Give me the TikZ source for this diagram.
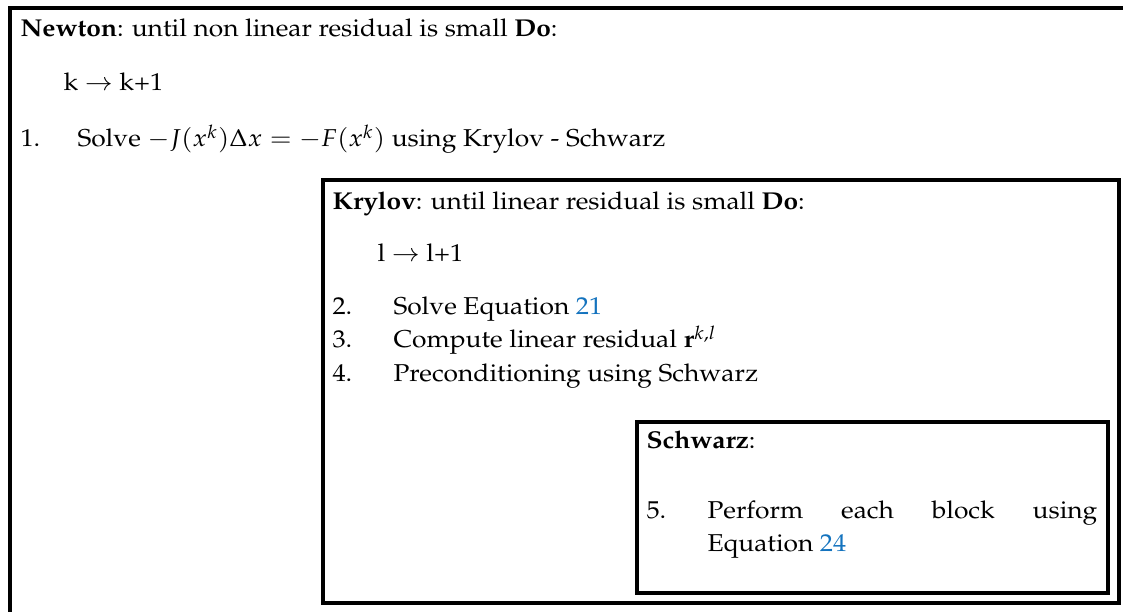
\documentclass[tikz,border=0pt]{standalone}
\usepackage[T1]{fontenc}
\usepackage{mathpazo}
\definecolor{linkblue}{RGB}{20,115,190}
\tikzset{
  frame/.style={line width=1.6pt},
  txt/.style={anchor=base west, inner sep=0pt, xscale=1.08}
}
\begin{document}
\begin{tikzpicture}[x=0.41pt,y=-0.41pt]
  \clip (0,0) rectangle (1123,612);

  % Newton
  \draw[frame] (10,8) rectangle (1150,640);
  \node[txt] (newton) at (20,37) {\textbf{Newton}: until non linear residual is small \textbf{Do}:};
  \node[txt] (kstep) at (63,91) {k $\rightarrow$ k+1};
  \node[txt] (one) at (20,147) {1.};
  \node[txt] (solve) at (77,147) {Solve $-J(x^k)\Delta x = -F(x^k)$ using Krylov - Schwarz};

  \begin{scope}[shift={(323,180)}]
    % Krylov
    \draw[frame] (0,0) rectangle (796,423);
    \node[txt] (krylov) at (9,30) {\textbf{Krylov}: until linear residual is small \textbf{Do}:};
    \node[txt] (lstep) at (54,82) {l $\rightarrow$ l+1};
    \node[txt] (two) at (9,135) {2.};
    \node[txt] (eq) at (70,135) {Solve Equation \textcolor{linkblue}{21}};
    \node[txt] (three) at (9,168) {3.};
    \node[txt] (res) at (70,168) {Compute linear residual $\mathbf{r}^{k,l}$};
    \node[txt] (four) at (9,202) {4.};
    \node[txt] (prec) at (70,202) {Preconditioning using Schwarz};

    \begin{scope}[shift={(314,242)}]
      % Schwarz
      \draw[frame] (0,0) rectangle (471,171);
      \node[txt] (schwarz) at (9,27) {\textbf{Schwarz}:};
      \node[txt] (five) at (9,97) {5.};
      \node[txt] (block) at (70,97) {\makebox[148pt][s]{Perform each block using}};
      \node[txt] (eqb) at (70,130) {Equation \textcolor{linkblue}{24}};
    \end{scope}

  \end{scope}
\end{tikzpicture}
\end{document}
